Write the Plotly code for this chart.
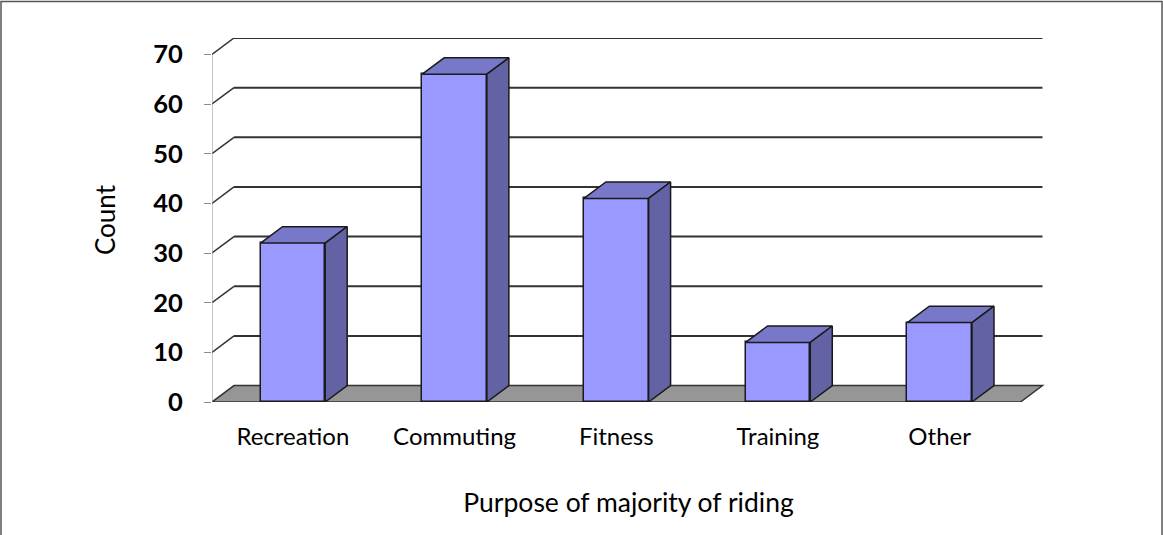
import plotly.graph_objects as go

# ---- data ----
categories = ["Recreation", "Commuting", "Fitness", "Training", "Other"]
counts = [32, 66, 41, 12, 16]
y_ticks = [0, 10, 20, 30, 40, 50, 60, 70]

# ---- style ----
FRONT = "#9999FF"
TOP = "#7878C8"
SIDE = "#6262A4"
FLOOR = "#969696"
EDGE = "#1a1a1a"
GRID = "#333333"
FONT = "Lato"
BAR_W = 0.4
DX = 0.136   # depth offset in category units
DY = 3.3     # depth offset in value units

n = len(categories)
xs = list(range(n))
x_lo, x_hi = -0.5, n - 0.5

fig = go.Figure()

# front faces of bars
fig.add_trace(go.Bar(
    x=xs, y=counts, width=BAR_W,
    marker=dict(color=FRONT, line=dict(color=EDGE, width=1.5)),
    hoverinfo="skip", showlegend=False,
))

# top and side faces (computed from the data)
for x, v in zip(xs, counts):
    x0, x1 = x - BAR_W / 2, x + BAR_W / 2
    fig.add_trace(go.Scatter(
        x=[x0, x1, x1 + DX, x0 + DX, x0], y=[v, v, v + DY, v + DY, v],
        fill="toself", fillcolor=TOP, mode="lines",
        line=dict(color=EDGE, width=1.5), hoverinfo="skip", showlegend=False))
    fig.add_trace(go.Scatter(
        x=[x1, x1 + DX, x1 + DX, x1, x1], y=[0, DY, v + DY, v, 0],
        fill="toself", fillcolor=SIDE, mode="lines",
        line=dict(color=EDGE, width=1.5), hoverinfo="skip", showlegend=False))

shapes = []
# back-wall gridlines and left-wall diagonals
for t in y_ticks[1:]:
    shapes.append(dict(type="line", layer="below", x0=x_lo + DX, x1=x_hi + DX,
                       y0=t + DY, y1=t + DY, line=dict(color=GRID, width=2)))
    shapes.append(dict(type="line", layer="below", x0=x_lo, x1=x_lo + DX,
                       y0=t, y1=t + DY, line=dict(color=GRID, width=1.5)))
# floor
shapes.append(dict(type="path", layer="below",
                   path=f"M {x_lo},0 L {x_hi},0 L {x_hi + DX},{DY} L {x_lo + DX},{DY} Z",
                   fillcolor=FLOOR, line=dict(color=GRID, width=1.5)))
# front value axis line
shapes.append(dict(type="line", layer="below", x0=x_lo, x1=x_lo, y0=0, y1=y_ticks[-1],
                   line=dict(color="#8c8c8c", width=1)))
# category boundary ticks
for b in range(n + 1):
    shapes.append(dict(type="line", layer="below", xref="x", yref="y",
                       ysizemode="pixel", yanchor=0, x0=x_lo + b, x1=x_lo + b,
                       y0=0, y1=-8, line=dict(color="#8c8c8c", width=1)))
# outer chart border
shapes.append(dict(type="rect", xref="paper", yref="paper",
                   x0=-0.2533, x1=1.1405, y0=-0.45, y1=1.1005,
                   line=dict(color="#555555", width=1.5)))

plot_w = 833
fig.update_layout(
    width=1163, height=535,
    margin=dict(l=212, r=118, t=38, b=133),
    paper_bgcolor="white", plot_bgcolor="white",
    font=dict(family=FONT, color="black"),
    shapes=shapes,
    bargap=0,
    xaxis=dict(
        range=[x_lo, x_lo + plot_w / 161.7],
        tickvals=xs, ticktext=categories,
        ticks="", showgrid=False, zeroline=False, showline=False,
        tickfont=dict(family=FONT, size=24),
        ticklabelstandoff=18,
        title=dict(text="Purpose of majority of riding",
                   font=dict(family=FONT, size=26.5), standoff=44),
    ),
    yaxis=dict(
        range=[0, 365 / 4.98],
        tickvals=y_ticks, ticks="outside", ticklen=7, tickcolor="#8c8c8c",
        showgrid=False, zeroline=False, showline=False,
        tickfont=dict(family=FONT, size=25.5, color="black", weight="bold"),
        ticklabelstandoff=16,
        title=dict(text="Count", font=dict(family=FONT, size=26), standoff=30),
    ),
)

fig.write_html("out.html", config={"displayModeBar": False},
               post_script="document.body.style.margin='0';document.body.style.overflow='hidden';")
